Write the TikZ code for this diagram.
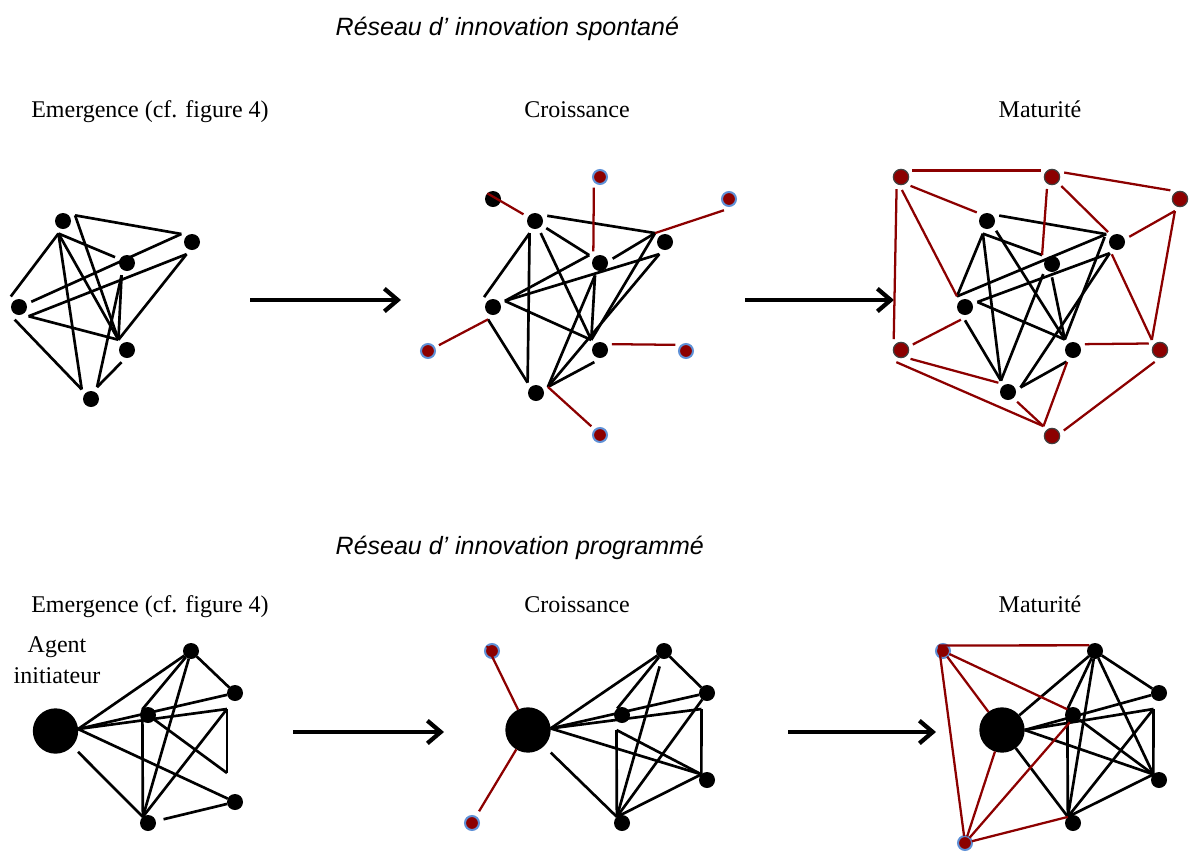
\documentclass[tikz,border=0pt]{standalone}
\usepackage{fontspec}
\setmainfont{Liberation Serif}
\newfontfamily\titlefont{Liberation Sans}
\usetikzlibrary{arrows.meta}
\definecolor{darkred}{RGB}{140,0,0}
\definecolor{ringblue}{RGB}{95,145,215}

\begin{document}
\begin{tikzpicture}[x=0.75pt,y=-0.75pt,
    dot/.style={circle,fill,inner sep=0pt,minimum size=12pt,outer sep=4pt},
    pdot/.style={dot,outer sep=0pt},
    agent/.style={circle,fill,inner sep=0pt,minimum size=34pt,outer sep=0pt},
    newdot/.style={circle,fill=darkred,draw=ringblue,line width=1.5pt,inner sep=0pt,minimum size=10.5pt,outer sep=4pt},
    olddot/.style={newdot,draw=black!75,line width=0.9pt,minimum size=11.5pt},
    link/.style={line width=2pt},
    newlink/.style={line width=1.7pt,draw=darkred},
    phase/.style={anchor=base,font=\fontsize{18}{22}\selectfont},
    titre/.style={anchor=base west,font=\titlefont\itshape\fontsize{18.75}{22}\selectfont},
    fleche/.style={line width=3.2pt,-{Straight Barb[length=10pt,width=17pt]}}]
\useasboundingbox (0,0) rectangle (1190,854);

% titles and phases
\node[titre] (t1) at (331,35) {Réseau d’ innovation spontané};
\node[titre] (t2) at (331,554) {Réseau d’ innovation programmé};
\node[phase] (p1) at (150,117) {Emergence (cf. figure 4)};
\node[phase] (p2) at (577,117) {Croissance};
\node[phase] (p3) at (1040,117) {Maturité};
\node[phase] (q1) at (150,612) {Emergence (cf. figure 4)};
\node[phase] (q2) at (577,612) {Croissance};
\node[phase] (q3) at (1040,612) {Maturité};
\node[align=center,font=\fontsize{18}{23.25}\selectfont] (ag) at (57,660) {Agent\\initiateur};

% arrows between phases
\coordinate (f1) at (250,300); \coordinate (f2) at (401,300);
\coordinate (f3) at (745,300); \coordinate (f4) at (894,300);
\coordinate (f5) at (293,732); \coordinate (f6) at (444,732);
\coordinate (f7) at (788,732); \coordinate (f8) at (936,732);
\draw[fleche] (f1) -- (f2);
\draw[fleche] (f3) -- (f4);
\draw[fleche] (f5) -- (f6);
\draw[fleche] (f7) -- (f8);

%% spontane : emergence
\node[dot] (ea) at (63,221) {};
\node[dot] (eb) at (192,242) {};
\node[dot] (ec) at (127,263) {};
\node[dot] (ed) at (19,307) {};
\node[dot] (ee) at (127,350) {};
\node[dot] (ef) at (91,399) {};
\foreach \a/\b in {ea.25/eb.143, ea.25/ee.130, ea.250/ed.128, ea.250/ec.154, ea.250/ef.134, ea.250/ee.130, ed.23/eb.143, ed.316/eb.246, ed.316/ee.130, ec.246/ee.130, ec.246/ef.63, eb.246/ee.130, ed.251/ef.134, ee.246/ef.63}
  \draw[link] (\a) -- (\b);

%% spontane : croissance
\node[dot] (ca) at (535,221) {};
\node[dot] (cb) at (665,242) {};
\node[dot] (cc) at (600,263) {};
\node[dot] (cd) at (493,307) {};
\node[dot] (ce) at (600,350) {};
\node[dot] (cf) at (536,393) {};
\node[dot,outer sep=0pt] (c0) at (493,199) {};
\node[newdot] (c1) at (600,177) {};
\node[newdot] (c2) at (729,199) {};
\node[newdot] (c3) at (428,351) {};
\node[newdot] (c4) at (686,351) {};
\node[newdot] (c5) at (600,435) {};
\foreach \a/\b in {ca.23/cb.138, ca/cc.144, ca/ce.131, ca.246/cd.132, ca.246/cf.129, cc.19/cb.138, cd.27/cc.144, cd.27/cb.245, cd.27/ce.131, cd.248/cf.129, cb.138/ce.131, cb.245/cf.27, cc.248/cf.27, cc.248/ce.131, ce.245/cf.27}
  \draw[link] (\a) -- (\b);
\foreach \a/\b in {c0.135/ca, c1.240/cc.120, cb.138/c2.246, c3.28/cd.248, ce.26/c4.150, cf.27/c5.135}
  \draw[newlink] (\a) -- (\b);

%% spontane : maturite
\node[dot] (ma) at (987,221) {};
\node[dot] (mb) at (1117,242) {};
\node[dot] (mc) at (1052,264) {};
\node[dot] (md) at (965,307) {};
\node[dot] (me) at (1073,350) {};
\node[dot] (mf) at (1008,392) {};
\node[olddot] (m1) at (901,177) {};
\node[olddot] (m2) at (1052,177) {};
\node[olddot] (m3) at (1180,199) {};
\node[olddot] (m4) at (901,350) {};
\node[olddot] (m5) at (1160,350) {};
\node[olddot] (m6) at (1052,436) {};
\foreach \a/\b in {ma.24/mb.144, ma.313/me.128, ma.252/md.127, ma.252/mf.122, ma.252/mc.138, md.127/mb.144, md.22/mb.237, md.22/me.128, md.270/mf.122, mc.229/mf.122, mc.270/me.128, mb.237/mf.20, mb.158/me.128, me.241/mf.20}
  \draw[link] (\a) -- (\b);
\foreach \a/\b in {m1.30/m2.150, m2.20/m3.138, m1.317/ma.140, m1.250/m4.124, m1.274/md.127, m2.247/mc.138, m2.316/mb.132, mb.23/m3.247, m3.247/m5.129, mb.247/m5.129, me.26/m5.150, m4.25/md.252, m4.317/mf.136, m4.249/m6.131, mf.313/m6.131, m6.131/me.244, m6.25/m5.246}
  \draw[newlink] (\a) -- (\b);

%% programme : emergence
\node[agent] (EG) at (55.5,731) {};
\node[pdot] (E1) at (191,651) {};
\node[pdot] (E2) at (235,693) {};
\node[pdot] (E3) at (148,715) {};
\node[pdot] (E4) at (235,802) {};
\node[pdot] (E5) at (148,823) {};
\coordinate (Ek) at (227,709);
\coordinate (Ek2) at (227,773);
\foreach \a/\b in {EG.5/E1, EG.5/E2, EG.5/Ek, EG.5/E4, E1/E2, E1/E3.135, E1/E5.130, E3.135/E5.130, E3/Ek2, Ek/Ek2, E5.130/Ek}
  \draw[link] (\a) -- (\b);
\draw[link,shorten <=6pt] (EG.318) -- (E5.130);
\draw[link,shorten <=6pt] (E5) -- (E4);

%% programme : croissance
\node[agent] (CG) at (528,730) {};
\node[pdot] (C1) at (664,651) {};
\node[pdot] (C2) at (707,693) {};
\node[pdot] (C3) at (622,715) {};
\node[pdot] (C4) at (707,780) {};
\node[pdot] (C5) at (622,823) {};
\node[newdot,outer sep=0pt] (Cr1) at (492,651) {};
\node[newdot,outer sep=0pt] (Cr2) at (472,823) {};
\coordinate (Ck) at (701.5,709);
\coordinate (Ck2) at (616.5,730);
\foreach \a/\b in {CG.4/C1, CG.4/C2, CG.4/Ck, CG.4/C4.135, C1/C2, C1/C3.127, Ck2/C5.130, Ck2/C4.135, Ck/C4.135, C5.130/C2, C5.130/C4.135}
  \draw[link] (\a) -- (\b);
\draw[link,shorten <=7pt] (CG.315) -- (C5.130);
\draw[link,shorten <=6pt] (C1) -- (C5.130);
\draw[newlink] (Cr1.135) -- (CG);
\draw[newlink,shorten <=5pt] (Cr2) -- (CG);

%% programme : maturite
\node[agent] (MG) at (1002,730) {};
\node[pdot] (M1) at (1095,651) {};
\node[pdot] (M2) at (1159,693) {};
\node[pdot] (M3) at (1073,715) {};
\node[pdot] (M4) at (1159,780) {};
\node[pdot] (M5) at (1073,823) {};
\node[newdot,outer sep=0pt] (Mr1) at (943,651) {};
\node[newdot,outer sep=0pt] (Mr2) at (965,843) {};
\coordinate (Mk) at (1153.5,709);
\foreach \a/\b in {MG/M1, MG.0/M2, MG.0/Mk, MG.0/M4.135, MG/M5.130, M1/M2, M1/M3.135, M1/M5.130, M1/M4.135, M3.135/M5.130, M3/M4.135, Mk/M4.135, M5.130/Mk, M5.130/M4.135}
  \draw[link] (\a) -- (\b);
\foreach \a/\b in {Mr1.127/M1.135, Mr1/M3.135, Mr1/MG, Mr1.127/Mr2, Mr2/MG, Mr2/M3.246, Mr2/M5.130}
  \draw[newlink] (\a) -- (\b);
\end{tikzpicture}
\end{document}
